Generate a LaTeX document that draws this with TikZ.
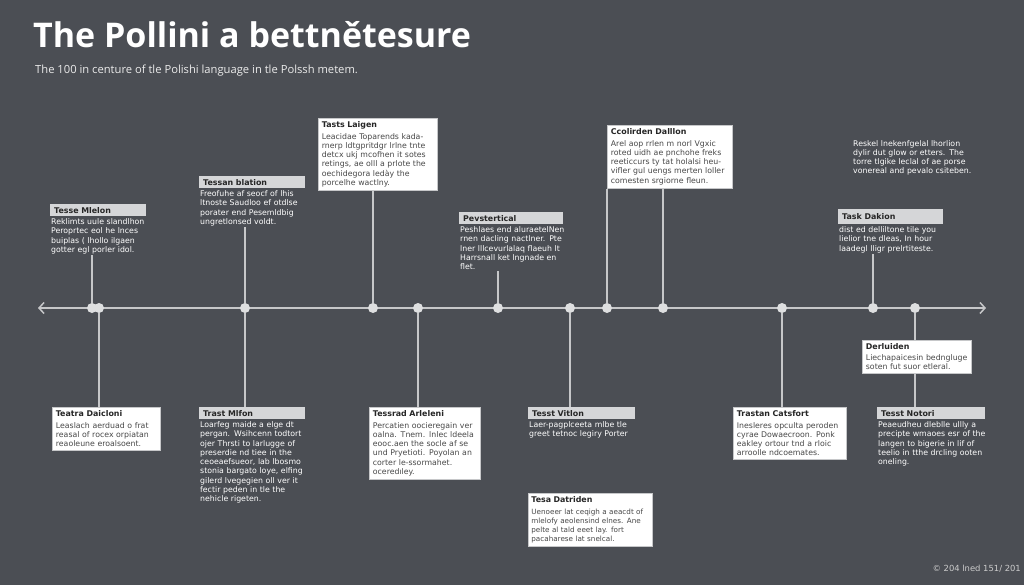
\documentclass[tikz,border=0pt]{standalone}
\usepackage{fontspec}
\setmainfont{DejaVu Sans}
\newfontfamily\titlefont{Open Sans}
\usetikzlibrary{positioning,arrows.meta}

\definecolor{bgdark}{HTML}{4B4E54}
\definecolor{linegray}{HTML}{C6C7C9}
\definecolor{dotgray}{HTML}{DEDFE0}
\definecolor{barfill}{HTML}{D5D6D8}
\definecolor{inkdark}{HTML}{262626}
\definecolor{inkbody}{HTML}{484848}

\newcommand{\bodyfont}{\fontsize{7.8}{9.25}\selectfont}
\newcommand{\headfont}{\fontsize{7.9}{10}\selectfont\bfseries}

\tikzset{
  wbox/.style={draw=linegray, fill=white, text=inkbody, line width=0.8pt,
    anchor=north west, align=left, inner xsep=3.5pt, inner ysep=3.5pt,
    font=\bodyfont, text width=#1pt},
  hbar/.style={fill=barfill, text=inkdark, anchor=north west, align=left,
    inner xsep=4pt, inner ysep=3pt, font=\headfont, text width=#1pt},
  btxt/.style={text=white, align=left, inner sep=1pt, font=\bodyfont,
    text width=#1pt},
  dot/.style={circle, fill=dotgray, inner sep=0pt, minimum size=10pt},
  stem/.style={draw=linegray, line width=1.5pt},
}

\begin{document}
\begin{tikzpicture}[x=1pt,y=-1pt]
\useasboundingbox (0,0) rectangle (1024,585);
\fill[bgdark] (0,0) rectangle (1024,585);

% title
\node[anchor=base west, text=white, font=\titlefont\fontsize{34}{38}\selectfont\bfseries,
  inner sep=0pt] (title) at (33,48) {The Pollini a bettnětesure};
\node[anchor=base west, text=white!92!black, font=\titlefont\fontsize{11.2}{12}\selectfont,
  inner sep=0pt] (subtitle) at (35,74)
  {The 100 in centure of tle Polishi language in tle Polssh metem.};

% the axis
\coordinate (tl) at (38,308);
\coordinate (tr) at (986,308);
\draw[linegray, line width=1.5pt, {Straight Barb[length=5pt,width=11pt]}-{Straight Barb[length=5pt,width=11pt]}] (tl) -- (tr);

% dots on the axis
\foreach \n/\x in {d1a/92, d1b/99, d2/245, d3/373, d4/418, d5/498, d6/570,
  d7/607, d8/663, d9/782, d10/873, d11/915}
\node[dot] (\n) at (\x,308) {};

% boxes above the axis
\node[hbar=88] (hmle) at (50,204) {Tesse Mlelon};
\node[btxt=97, below=1pt of hmle.south west, anchor=north west] (bmle)
  {Reklimts uule slandlhon\\ Peroprtec eol he lnces\\ buiplas ( lhollo ilgaen\\ gotter egl porler idol.};

\node[hbar=98] (hbla) at (199,176) {Tessan blation};
\node[btxt=108, below=1pt of hbla.south west, anchor=north west] (bbla)
  {Freofuhe af seocf of lhis\\ ltnoste Saudloo ef otdlse\\ porater end Pesemldbig\\ ungretlonsed voldt.};

\node[wbox=112] (tlai) at (318,118)
  {{\headfont\color{inkdark}Tasts Laigen}\\[2pt]
  Leacidae Toparends kada-\\ rnerp ldtgpritdgr lrlne tnte\\ detcx ukj mcofhen it sotes\\
  retings, ae olll a prlote the\\ oechidegora ledày the\\ porcelhe wactlny.};

\node[hbar=96] (hpev) at (459,212) {Pevstertical};
\node[btxt=106, below=1pt of hpev.south west, anchor=north west] (bpev)
  {Peshlaes end aluraetelNen\\ rnen dacling nactlner. Pte\\ lner lllcevurlalaq flaeuh lt\\ Harrsnall ket lngnade en\\ flet.};

\node[wbox=118] (cdal) at (607,125)
  {{\headfont\color{inkdark}Ccolirden Dalllon}\\[2pt]
  Arel aop rrlen m norl Vgxic\\ roted uidh ae pnchohe freks\\ reeticcurs ty tat holalsi heu-\\
  vifler gul uengs merten loller\\ comesten srgiorne fleun.};

\node[btxt=130, anchor=north west] (para) at (852,139)
  {Reskel lnekenfgelal lhorlion\\ dylir dut glow or etters. The\\ torre tlgike leclal of ae porse\\ vonereal and pevalo csiteben.};

\node[hbar=97, inner ysep=4.5pt] (hkdk) at (838,209) {Task Dakion};
\node[btxt=108, below=1pt of hkdk.south west, anchor=north west] (bkdk)
  {dist ed delliltone tile you\\ lielior tne dleas, In hour\\ laadegl lligr prelrtiteste.};

% boxes below the axis
\node[wbox=101] (tdai) at (52,407)
  {{\headfont\color{inkdark}Teatra Daicloni}\\[2pt]
  Leaslach aerduad o frat\\ reasal of rocex orpiatan\\ reaoleune eroalsoent.};

\node[hbar=98] (hmfo) at (199,407) {Trast Mlfon};
\node[btxt=108, below=1pt of hmfo.south west, anchor=north west] (bmfo)
  {Loarfeg maide a elge dt\\ pergan. Wsihcenn todtort\\ ojer Thrsti to larlugge of\\ preserdie nd tiee in the\\
  ceoeaefsueor, lab lbosmo\\ stonia bargato loye, elfing\\ gilerd lvegegien oll ver it\\ fectir peden in tle the\\ nehicle rigeten.};

\node[wbox=104] (tari) at (369,407)
  {{\headfont\color{inkdark}Tessrad Arleleni}\\[2pt]
  Percatien oocieregain ver\\ oalna. Tnem. lnlec ldeela\\ eooc.aen the socle af se\\
  und Pryetioti. Poyolan an\\ corter le-ssormahet.\\ oceredıley.};

\node[hbar=99] (hvit) at (528,407) {Tesst Vitlon};
\node[btxt=108, below=1pt of hvit.south west, anchor=north west] (bvit)
  {Laer-pagplceeta mlbe tle\\ greet tetnoc legiry Porter};

\node[wbox=118, inner xsep=3pt, font=\fontsize{7.2}{9.1}\selectfont] (tdat) at (528,493)
  {{\headfont\color{inkdark}Tesa Datriden}\\[2pt]
  Uenoeer lat ceqigh a aeacdt of\\ mlelofy aeolensind elnes. Ane\\ pelte al tald eeet lay. fort\\ pacaharese lat snelcal.};

\node[wbox=106] (tcat) at (733,407)
  {{\headfont\color{inkdark}Trastan Catsfort}\\[2pt]
  Inesleres opculta peroden\\ cyrae Dowaecroon. Ponk\\ eakley ortour tnd a rloic\\ arroolle ndcoemates.};

\node[wbox=102] (derl) at (862,340)
  {{\headfont\color{inkdark}Derluiden}\\[1pt]
  Liechapaicesin bedngluge\\ soten fut suor etleral.};

\node[hbar=100] (hnot) at (877,407) {Tesst Notori};
\node[btxt=110, below=1pt of hnot.south west, anchor=north west] (bnot)
  {Peaeudheu dleblle ullly a\\ precipte wmaoes esr of the\\ langen to bigerie in lif of\\ teelio in tthe drcling ooten\\ oneling.};

% stems up
\draw[stem] (bmle.south -| d1a) -- (d1a);
\draw[stem] (bbla.south -| d2) -- (d2);
\draw[stem] (tlai.south -| d3) -- (d3);
\draw[stem] (bpev.south -| d5) -- (d5);
\draw[stem] (cdal.south -| d7) -- (d7);
\draw[stem] (cdal.south -| d8) -- (d8);
\draw[stem] (bkdk.south -| d10) -- (d10);
% stems down
\draw[stem] (d1b) -- (tdai.north -| d1b);
\draw[stem] (d2) -- (hmfo.north -| d2);
\draw[stem] (d4) -- (tari.north -| d4);
\draw[stem] (d6) -- (hvit.north -| d6);
\draw[stem] (d9) -- (tcat.north -| d9);
\draw[stem] (d11) -- (derl.north -| d11);
\draw[stem] (derl.south -| d11) -- (hnot.north -| d11);

\node[anchor=base east, text=white!80!black, font=\fontsize{8.4}{9}\selectfont,
  inner sep=0pt] (copy) at (1021,571) {© 204 lned 151/ 201};
\end{tikzpicture}
\end{document}
